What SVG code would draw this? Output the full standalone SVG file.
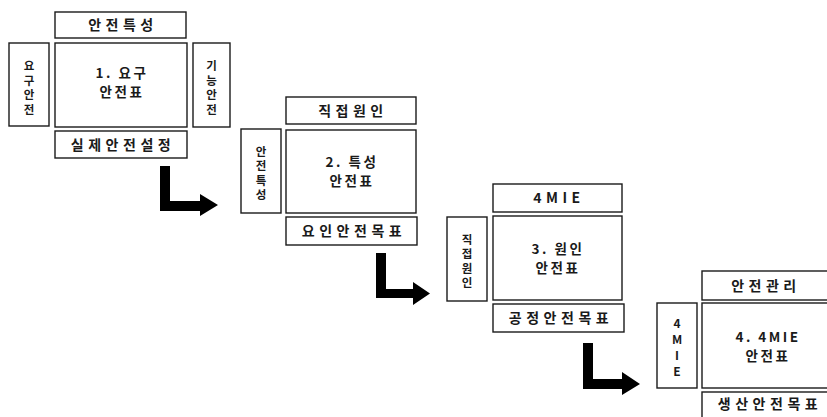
<svg xmlns="http://www.w3.org/2000/svg" width="827" height="417" viewBox="0 0 827 417">
<style>
rect.b{fill:#fff;stroke:#1a1a1a;stroke-width:1.4}
text{font-family:"Noto Sans CJK KR","Noto Sans",sans-serif;font-weight:bold;fill:#1a1a1a;text-anchor:middle}
.h{font-size:14px;letter-spacing:4.5px}
.m{font-size:13.5px;letter-spacing:2.5px}
.v{font-size:11.5px}
.a{fill:#000}
</style>
<rect width="827" height="417" fill="#fff"/>
<g id="node1">
<rect class="b" x="55" y="12" width="131" height="26"/>
<text class="h" x="123" y="30">안전특성</text>
<rect class="b" x="55" y="43" width="132" height="84"/>
<text class="m" x="122" y="78">1. 요구</text>
<text class="m" x="122" y="97">안전표</text>
<rect class="b" x="9" y="43" width="40" height="83"/>
<text class="v" x="29"><tspan x="29" y="70">요</tspan><tspan x="29" y="84.5">구</tspan><tspan x="29" y="99">안</tspan><tspan x="29" y="113.5">전</tspan></text>
<rect class="b" x="193" y="43" width="37" height="84"/>
<text class="v" x="211.5"><tspan x="211.5" y="70">기</tspan><tspan x="211.5" y="84.5">능</tspan><tspan x="211.5" y="99">안</tspan><tspan x="211.5" y="113.5">전</tspan></text>
<rect class="b" x="55" y="131" width="132" height="27"/>
<text class="h" x="123" y="149.5">실제안전설정</text>
</g>
<g id="node2">
<rect class="b" x="286" y="97" width="130" height="27"/>
<text class="h" x="353" y="115.5">직접원인</text>
<rect class="b" x="286" y="130" width="130" height="83"/>
<text class="m" x="352" y="167">2. 특성</text>
<text class="m" x="352" y="186">안전표</text>
<rect class="b" x="241" y="129" width="40" height="84"/>
<text class="v" x="261"><tspan x="261" y="155.5">안</tspan><tspan x="261" y="170">전</tspan><tspan x="261" y="184.5">특</tspan><tspan x="261" y="199">성</tspan></text>
<rect class="b" x="286" y="217" width="131" height="28"/>
<text class="h" x="354" y="236">요인안전목표</text>
</g>
<g id="node3">
<rect class="b" x="493" y="184" width="129" height="28"/>
<text class="h" x="559" y="203">4MIE</text>
<rect class="b" x="493" y="216" width="129" height="84"/>
<text class="m" x="558" y="254">3. 원인</text>
<text class="m" x="558" y="273">안전표</text>
<rect class="b" x="447" y="217" width="40" height="84"/>
<text class="v" x="467"><tspan x="467" y="243.5">직</tspan><tspan x="467" y="258">접</tspan><tspan x="467" y="272.5">원</tspan><tspan x="467" y="287">인</tspan></text>
<rect class="b" x="493" y="304" width="131" height="28"/>
<text class="h" x="561" y="323">공정안전목표</text>
</g>
<g id="node4">
<rect class="b" x="702" y="271" width="132" height="29"/>
<text class="h" x="766" y="291">안전관리</text>
<rect class="b" x="702" y="303" width="132" height="85"/>
<text class="m" x="768" y="342">4. 4MIE</text>
<text class="m" x="768" y="361">안전표</text>
<rect class="b" x="657" y="303" width="40" height="85"/>
<text class="v" style="font-size:12px" x="677"><tspan x="677" y="328">4</tspan><tspan x="677" y="344">M</tspan><tspan x="677" y="360">I</tspan><tspan x="677" y="376">E</tspan></text>
<rect class="b" x="702" y="392" width="132" height="32"/>
<text class="h" x="770" y="409">생산안전목표</text>
</g>
<g id="connectors">
<path class="a" d="M160,166 H170 V201 H200 V194 L218,205 L200,216 V211 H160 Z"/>
<path class="a" d="M376,253 H386 V289 H413 V282 L430,293.5 L413,305 V298 H376 Z"/>
<path class="a" d="M583,343 H593 V379 H622 V372 L640,384 L622,395 V389 H583 Z"/>
</g>
</svg>
